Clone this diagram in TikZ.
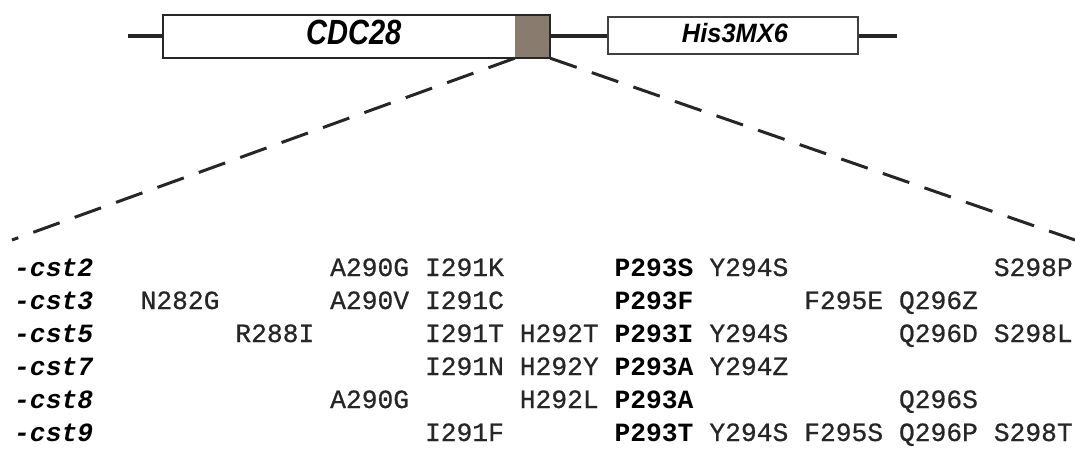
\documentclass[tikz,border=0pt]{standalone}
\usepackage{fontspec}
\newfontfamily\monof[FakeBold=0.7]{Liberation Mono}
\newfontfamily\monob{Liberation Mono}
\newfontfamily\sansf{Liberation Sans}
\definecolor{shade}{RGB}{137,124,110}
\newcommand\mutcell[4]{\node[#1] (r#2c#3) at ({14+15.8*#3},{276+33*(#2-1)}) {#4};}
\begin{document}
\begin{tikzpicture}[x=1pt,y=-1pt,
  mut/.style={anchor=base west,inner sep=0pt,text=black!85,font=\monof\fontsize{26.3}{30}\selectfont},
  bmut/.style={mut,text=black,font=\monob\bfseries\fontsize{26.3}{30}\selectfont},
  lab/.style={mut,text=black,font=\monob\bfseries\itshape\fontsize{26.3}{30}\selectfont},
  backbone/.style={line width=3.2pt,draw=black!85},
  zoomline/.style={line width=3pt,draw=black!85,dash pattern=on 28pt off 16pt}]
\useasboundingbox (0,0) rectangle (1075,450);
% gene map
\coordinate (bl) at (128,36);
\coordinate (br) at (897,36);
\node[fill=shade,inner sep=0pt,minimum width=35pt,minimum height=43pt] (dom) at (532.5,36.5) {};
\node[draw=black!85,line width=2.6pt,inner sep=0pt,minimum width=387pt,minimum height=43pt] (cdc) at (356.5,36.5) {};
\node[draw=black!75,line width=2.2pt,inner sep=0pt,minimum width=250pt,minimum height=37pt] (his) at (733,35.5) {};
\node[inner sep=0pt] (cdct) at (354.5,32.5) {\scalebox{0.83}[1]{\sansf\bfseries\itshape\fontsize{35}{40}\selectfont CDC28}};
\node[inner sep=0pt] (hist) at (735,33.5) {\scalebox{0.96}[1]{\sansf\bfseries\itshape\fontsize{26.5}{30}\selectfont His3MX6}};
\draw[backbone] (bl) -- (cdc.west |- bl);
\draw[backbone] (cdc.east |- bl) -- (his.west |- bl);
\draw[backbone] (his.east |- br) -- (br);
% zoom lines
\coordinate (zl) at (12,240);
\coordinate (zr) at (1075,240);
\draw[zoomline] (dom.south west) -- (zl);
\draw[zoomline] (dom.south east) -- (zr);
% table
\mutcell{lab}{1}{0}{-cst2}
\mutcell{lab}{2}{0}{-cst3}
\mutcell{lab}{3}{0}{-cst5}
\mutcell{lab}{4}{0}{-cst7}
\mutcell{lab}{5}{0}{-cst8}
\mutcell{lab}{6}{0}{-cst9}
% row 1
\mutcell{mut}{1}{20}{A290G}
\mutcell{mut}{1}{26}{I291K}
\mutcell{bmut}{1}{38}{P293S}
\mutcell{mut}{1}{44}{Y294S}
\mutcell{mut}{1}{62}{S298P}
% row 2
\mutcell{mut}{2}{8}{N282G}
\mutcell{mut}{2}{20}{A290V}
\mutcell{mut}{2}{26}{I291C}
\mutcell{bmut}{2}{38}{P293F}
\mutcell{mut}{2}{50}{F295E}
\mutcell{mut}{2}{56}{Q296Z}
% row 3
\mutcell{mut}{3}{14}{R288I}
\mutcell{mut}{3}{26}{I291T}
\mutcell{mut}{3}{32}{H292T}
\mutcell{bmut}{3}{38}{P293I}
\mutcell{mut}{3}{44}{Y294S}
\mutcell{mut}{3}{56}{Q296D}
\mutcell{mut}{3}{62}{S298L}
% row 4
\mutcell{mut}{4}{26}{I291N}
\mutcell{mut}{4}{32}{H292Y}
\mutcell{bmut}{4}{38}{P293A}
\mutcell{mut}{4}{44}{Y294Z}
% row 5
\mutcell{mut}{5}{20}{A290G}
\mutcell{mut}{5}{32}{H292L}
\mutcell{bmut}{5}{38}{P293A}
\mutcell{mut}{5}{56}{Q296S}
% row 6
\mutcell{mut}{6}{26}{I291F}
\mutcell{bmut}{6}{38}{P293T}
\mutcell{mut}{6}{44}{Y294S}
\mutcell{mut}{6}{50}{F295S}
\mutcell{mut}{6}{56}{Q296P}
\mutcell{mut}{6}{62}{S298T}
\end{tikzpicture}
\end{document}
